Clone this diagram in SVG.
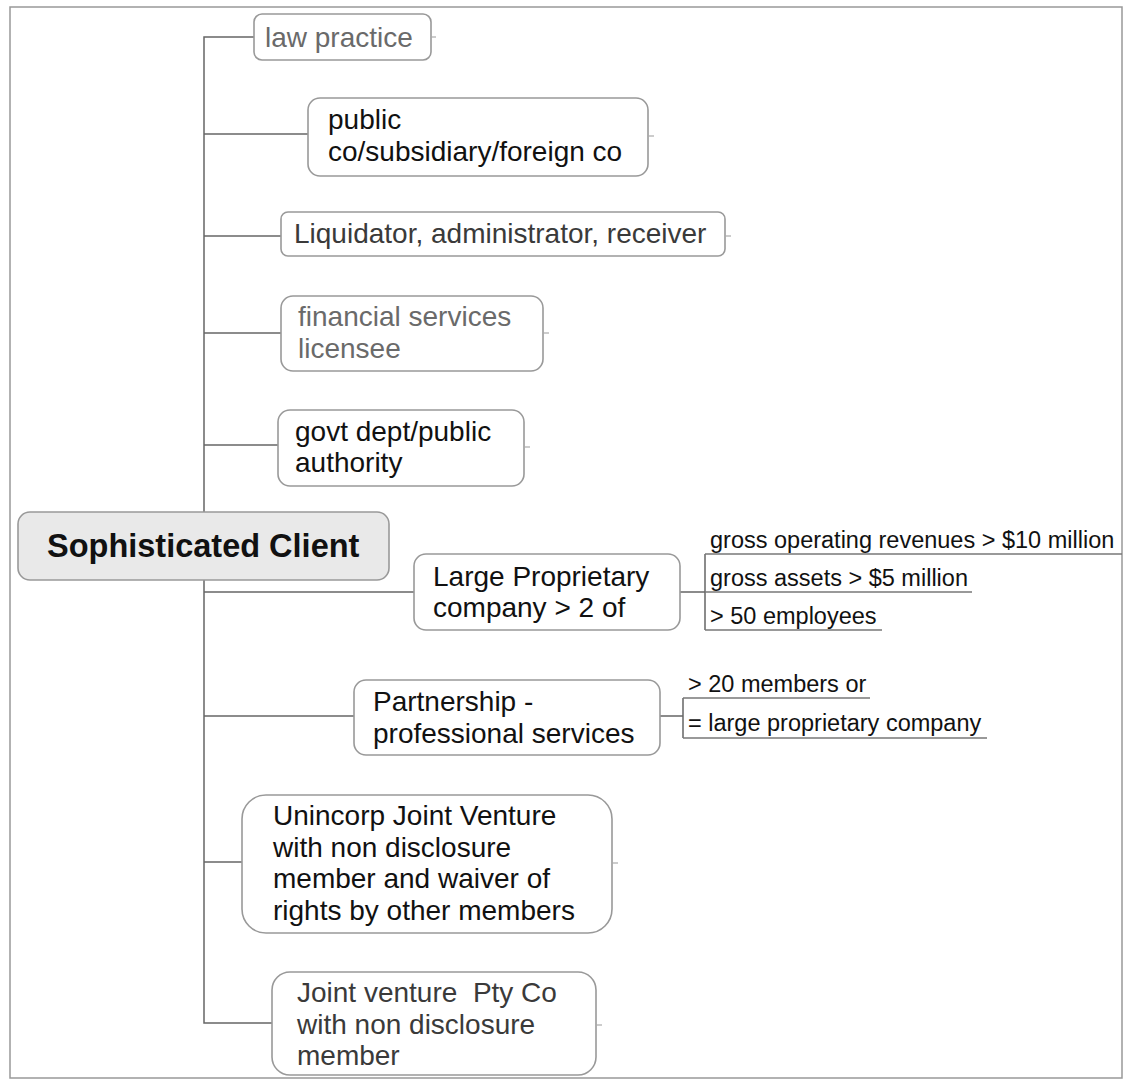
<svg xmlns="http://www.w3.org/2000/svg" width="1124" height="1080" viewBox="0 0 1124 1080">
<style>
text{font-family:"Liberation Sans",Arial,sans-serif;font-size:28px;fill:#111}
.box{fill:#fff;stroke:#999;stroke-width:1.6}
.root{fill:#e9e9e9;stroke:#999;stroke-width:1.6}
.con{fill:none;stroke:#666;stroke-width:1.5}
.tick{stroke:#aaa;stroke-width:1.2}
.sub{font-size:23.5px}
.ul{stroke:#777;stroke-width:1.4}
.grey{fill:#6a6a6a}
.dg{fill:#3a3a3a}
</style>
<rect x="0" y="0" width="1124" height="1080" fill="#fff"/>
<rect x="10" y="7" width="1112" height="1071" fill="none" stroke="#999" stroke-width="1.5"/>
<g id="connectors">
<path class="con" d="M254,37 H204 V1023 H272"/>
<path class="con" d="M204,134 H308"/>
<path class="con" d="M204,236 H281"/>
<path class="con" d="M204,333 H281"/>
<path class="con" d="M204,445 H278"/>
<path class="con" d="M204,592 H414"/>
<path class="con" d="M204,716 H354"/>
<path class="con" d="M204,862 H242"/>
<path class="con" d="M680,592 H705 M705,554 V630"/>
<path class="con" d="M660,716 H683 M683,698 V738"/>
<line class="ul" x1="705" y1="554" x2="1122" y2="554"/>
<line class="ul" x1="705" y1="592" x2="972" y2="592"/>
<line class="ul" x1="705" y1="630" x2="882" y2="630"/>
<line class="ul" x1="683" y1="698" x2="870" y2="698"/>
<line class="ul" x1="683" y1="738" x2="987" y2="738"/>
</g>
<g id="n-law">
<rect class="box" x="254" y="14" width="177" height="46" rx="8"/>
<line class="tick" x1="431" y1="37" x2="436" y2="37"/>
<text class="grey" x="265" y="47">law practice</text>
</g>
<g id="n-public">
<rect class="box" x="308" y="98" width="340" height="78" rx="12"/>
<line class="tick" x1="648" y1="136" x2="654" y2="136"/>
<text x="328" y="129">public</text>
<text x="328" y="161">co/subsidiary/foreign co</text>
</g>
<g id="n-liquidator">
<rect class="box" x="281" y="212" width="444" height="44" rx="7"/>
<line class="tick" x1="725" y1="236" x2="731" y2="236"/>
<text class="dg" x="294" y="243">Liquidator, administrator, receiver</text>
</g>
<g id="n-financial">
<rect class="box" x="281" y="296" width="262" height="75" rx="12"/>
<line class="tick" x1="543" y1="333" x2="549" y2="333"/>
<text class="grey" x="298" y="326">financial services</text>
<text class="grey" x="298" y="358">licensee</text>
</g>
<g id="n-govt">
<rect class="box" x="278" y="410" width="246" height="76" rx="12"/>
<line class="tick" x1="524" y1="447" x2="530" y2="447"/>
<text x="295" y="441">govt dept/public</text>
<text x="295" y="472">authority</text>
</g>
<g id="n-root">
<rect class="root" x="18" y="512" width="371" height="68" rx="12"/>
<text x="47" y="557" style="font-weight:bold;font-size:32.5px">Sophisticated Client</text>
</g>
<g id="n-large">
<rect class="box" x="414" y="554" width="266" height="76" rx="12"/>
<text x="433" y="586">Large Proprietary</text>
<text x="433" y="617">company &gt; 2 of</text>
</g>
<g id="n-large-1"><text class="sub" x="710" y="548">gross operating revenues &gt; $10 million</text></g>
<g id="n-large-2"><text class="sub" x="710" y="586">gross assets &gt; $5 million</text></g>
<g id="n-large-3"><text class="sub" x="710" y="624">&gt; 50 employees</text></g>
<g id="n-partnership">
<rect class="box" x="354" y="680" width="306" height="75" rx="12"/>
<text x="373" y="711">Partnership -</text>
<text x="373" y="743">professional services</text>
</g>
<g id="n-part-1"><text class="sub" x="688" y="692">&gt; 20 members or</text></g>
<g id="n-part-2"><text class="sub" x="688" y="731">= large proprietary company</text></g>
<g id="n-unincorp">
<rect class="box" x="242" y="795" width="370" height="138" rx="24"/>
<line class="tick" x1="612" y1="863" x2="618" y2="863"/>
<text x="273" y="825">Unincorp Joint Venture</text>
<text x="273" y="857">with non disclosure</text>
<text x="273" y="888">member and waiver of</text>
<text x="273" y="920">rights by other members</text>
</g>
<g id="n-jvpty">
<rect class="box" x="272" y="972" width="324" height="103" rx="18"/>
<line class="tick" x1="596" y1="1025" x2="602" y2="1025"/>
<text class="dg" x="297" y="1002" xml:space="preserve">Joint venture  Pty Co</text>
<text class="dg" x="297" y="1034">with non disclosure</text>
<text class="dg" x="297" y="1065">member</text>
</g>
</svg>
